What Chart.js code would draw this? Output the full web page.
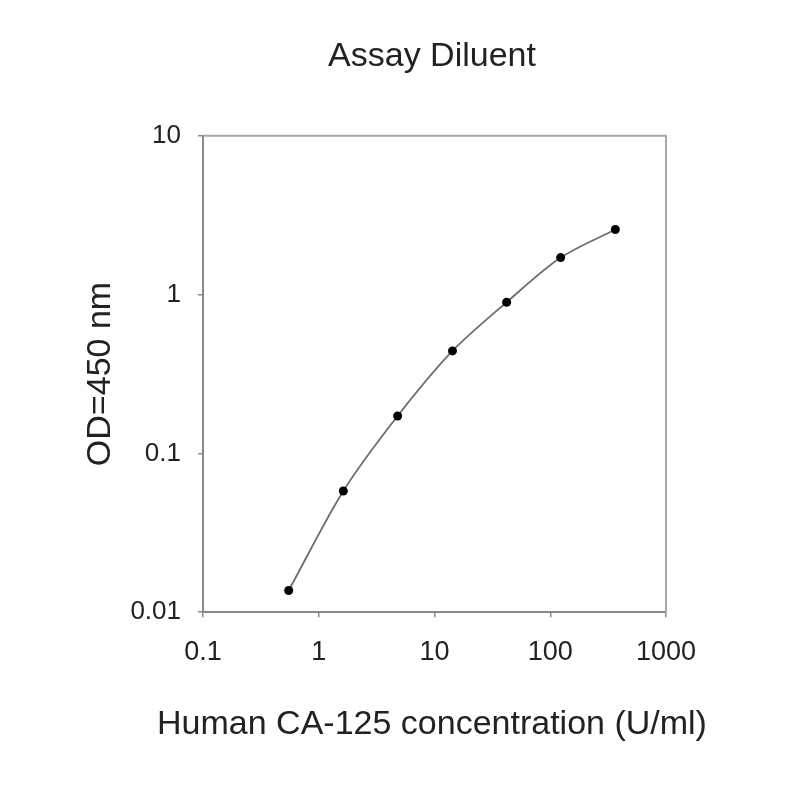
<!DOCTYPE html>
<html>
<head>
<meta charset="utf-8">
<title>Assay Diluent</title>
<script src="https://cdn.jsdelivr.net/npm/chart.js@4.4.1/dist/chart.umd.min.js"></script>
<style>
  body { margin: 0; background: #fff; }
  canvas { display: block; }
</style>
</head>
<body>
<canvas id="myChart" width="800" height="800"></canvas>
<script>
// standard curve
var concentration = [0.55, 1.63, 4.8, 14.3, 42, 123, 365];
var odValues = [0.0137, 0.058, 0.172, 0.442, 0.895, 1.71, 2.57];

var xTicks = [0.1, 1, 10, 100, 1000];
var yTicks = [0.01, 0.1, 1, 10];

var FONT = "'Liberation Sans', Arial, sans-serif";

// top and right edge of the plot box
var boxPlugin = {
    id: 'boxEdges',
    afterDraw: function(chart) {
        var a = chart.chartArea, ctx = chart.ctx;
        ctx.save();
        ctx.strokeStyle = '#a8a8a8';
        ctx.lineWidth = 2;
        ctx.beginPath();
        ctx.moveTo(a.left, a.top);
        ctx.lineTo(a.right, a.top);
        ctx.lineTo(a.right, a.bottom);
        ctx.stroke();
        ctx.restore();
    }
};

function showChart()
{
var ctx = document.getElementById('myChart').getContext('2d');
var chart = new Chart(ctx, {
    type: 'scatter',

    data: {
        datasets: [{
            label: 'Assay Diluent',
            data: concentration.map(function(c, i) { return {x: c, y: odValues[i]}; }),
            showLine: true,
            tension: 0.3,
            borderColor: '#6e6e6e',
            borderWidth: 1.8,
            pointBackgroundColor: '#000',
            pointBorderColor: '#000',
            pointRadius: 4.5,
            pointBorderWidth: 0
        }]
    },

    options: {
        responsive: false,
        animation: false,
        devicePixelRatio: 1,
        // left padding shifts the title centres to the right like the original
        layout: { padding: { left: 64, right: 0, top: 0, bottom: 0 } },
        plugins: {
            legend: { display: false },
            tooltip: { enabled: false },
            title: {
                display: true,
                text: 'Assay Diluent',
                color: '#222',
                font: { family: FONT, size: 34, weight: 'normal' },
                padding: { top: 36, bottom: 59 }
            },
            // x axis title, wider than the plot box
            subtitle: {
                display: true,
                position: 'bottom',
                text: 'Human CA-125 concentration (U/ml)',
                color: '#222',
                font: { family: FONT, size: 34, weight: 'normal' },
                padding: { top: 32, bottom: 55 }
            }
        },
        scales: {
            x: {
                type: 'logarithmic',
                min: 0.1,
                max: 1000,
                afterBuildTicks: function(scale) {
                    scale.ticks = xTicks.map(function(v) { return {value: v}; });
                },
                afterFit: function(scale) { scale.height = 60; },
                ticks: {
                    color: '#222',
                    font: { family: FONT, size: 27 },
                    padding: 19,
                    maxRotation: 0,
                    callback: function(value) { return String(value); }
                },
                grid: {
                    drawOnChartArea: false,
                    drawTicks: true,
                    tickLength: 5,
                    color: '#888',
                    lineWidth: 1.5
                },
                border: { display: true, color: '#888', width: 2 }
            },
            y: {
                type: 'logarithmic',
                min: 0.01,
                max: 10,
                afterBuildTicks: function(scale) {
                    scale.ticks = yTicks.map(function(v) { return {value: v}; });
                },
                afterFit: function(scale) { scale.width = 139; },
                ticks: {
                    color: '#222',
                    font: { family: FONT, size: 26 },
                    padding: 17,
                    callback: function(value) { return String(value); }
                },
                grid: {
                    drawOnChartArea: false,
                    drawTicks: true,
                    tickLength: 5,
                    color: '#888',
                    lineWidth: 1.5
                },
                border: { display: true, color: '#888', width: 2 },
                title: {
                    display: true,
                    text: 'OD=450 nm',
                    color: '#222',
                    font: { family: FONT, size: 34 },
                    padding: { top: 16, bottom: 0 }
                }
            },
            // empty right-hand space holder so the plot box ends where it does
            yRight: {
                type: 'linear',
                position: 'right',
                min: 0,
                max: 1,
                afterFit: function(scale) { scale.width = 134; },
                ticks: { display: false },
                grid: { display: false },
                border: { display: false }
            }
        }
    },
    plugins: [boxPlugin]
});
}

showChart();
</script>
</body>
</html>
